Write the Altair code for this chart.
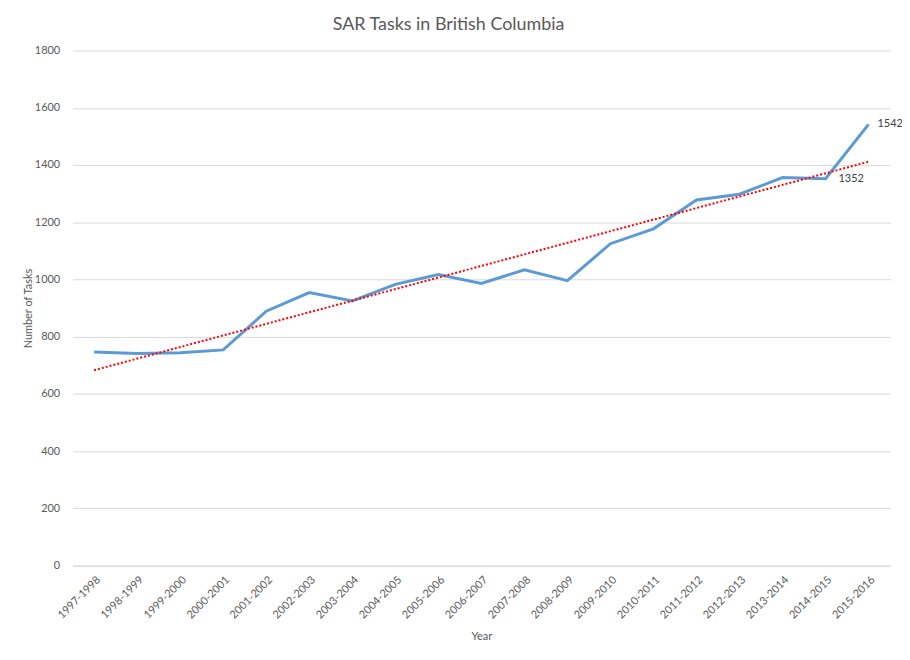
import altair as alt
import pandas as pd

years = ["1997-1998", "1998-1999", "1999-2000", "2000-2001", "2001-2002",
         "2002-2003", "2003-2004", "2004-2005", "2005-2006", "2006-2007",
         "2007-2008", "2008-2009", "2009-2010", "2010-2011", "2011-2012",
         "2012-2013", "2013-2014", "2014-2015", "2015-2016"]
tasks = [747, 741, 744, 754, 889, 954, 925, 983, 1017, 986, 1034, 996,
         1125, 1177, 1278, 1298, 1356, 1352, 1542]
labelled_years = ["2014-2015", "2015-2016"]
label_dx = [13, 9]

df = pd.DataFrame({"Year": years, "Tasks": tasks, "idx": list(range(len(years)))})

FONT = "Lato"
GREY = "#595959"

x_enc = alt.X("Year:N", sort=years,
              scale=alt.Scale(type="point", padding=0.5),
              axis=alt.Axis(title="Year", labelAngle=-45, labelAlign="right",
                            labelBaseline="top", labelFontSize=11, labelColor=GREY,
                            titleColor=GREY, titleFontSize=11, titleFontWeight="normal",
                            titlePadding=10, ticks=False, domainColor="#d9d9d9",
                            labelPadding=8, grid=False))
y_enc = alt.Y("Tasks:Q",
              scale=alt.Scale(domain=[0, 1800]),
              axis=alt.Axis(title="Number  of Tasks", values=list(range(0, 1801, 200)),
                            format="d",
                            labelFontSize=11, labelColor=GREY, titleColor=GREY,
                            titleFontSize=11, titleFontWeight="normal", titlePadding=1,
                            ticks=False, domain=False, gridColor="#d9d9d9", labelPadding=13))

base = alt.Chart(df)

line = base.mark_line(color="#5b9bd5", strokeWidth=3).encode(x=x_enc, y=y_enc)

trend = base.transform_regression("idx", "Tasks").transform_lookup(
    lookup="idx", from_=alt.LookupData(data=df, key="idx", fields=["Year"])
).mark_line(color="#ff0000", strokeWidth=2, strokeDash=[2, 2]).encode(
    x=alt.X("Year:N", sort=years), y="Tasks:Q")

texts = [
    base.transform_filter(alt.datum.Year == yr).mark_text(
        align="left", baseline="middle", dx=d, fontSize=11, color="#404040", font=FONT
    ).encode(x=alt.X("Year:N", sort=years), y="Tasks:Q", text="Tasks:Q")
    for yr, d in zip(labelled_years, label_dx)
]

chart = alt.layer(line, trend, *texts).properties(
    width=822, height=518,
    autosize=alt.AutoSizeParams(type="none"),
    padding={"left": 65, "top": 41, "right": 12, "bottom": 77},
    title=alt.Title("SAR Tasks in British Columbia", fontSize=18, color=GREY,
                    fontWeight="normal", font=FONT, offset=11, dx=-33)
).configure(font=FONT, background="white").configure_view(stroke=None).configure_axis(
    labelFont=FONT, titleFont=FONT)

chart.save("out.html", embed_options={"renderer": "svg", "actions": False})
